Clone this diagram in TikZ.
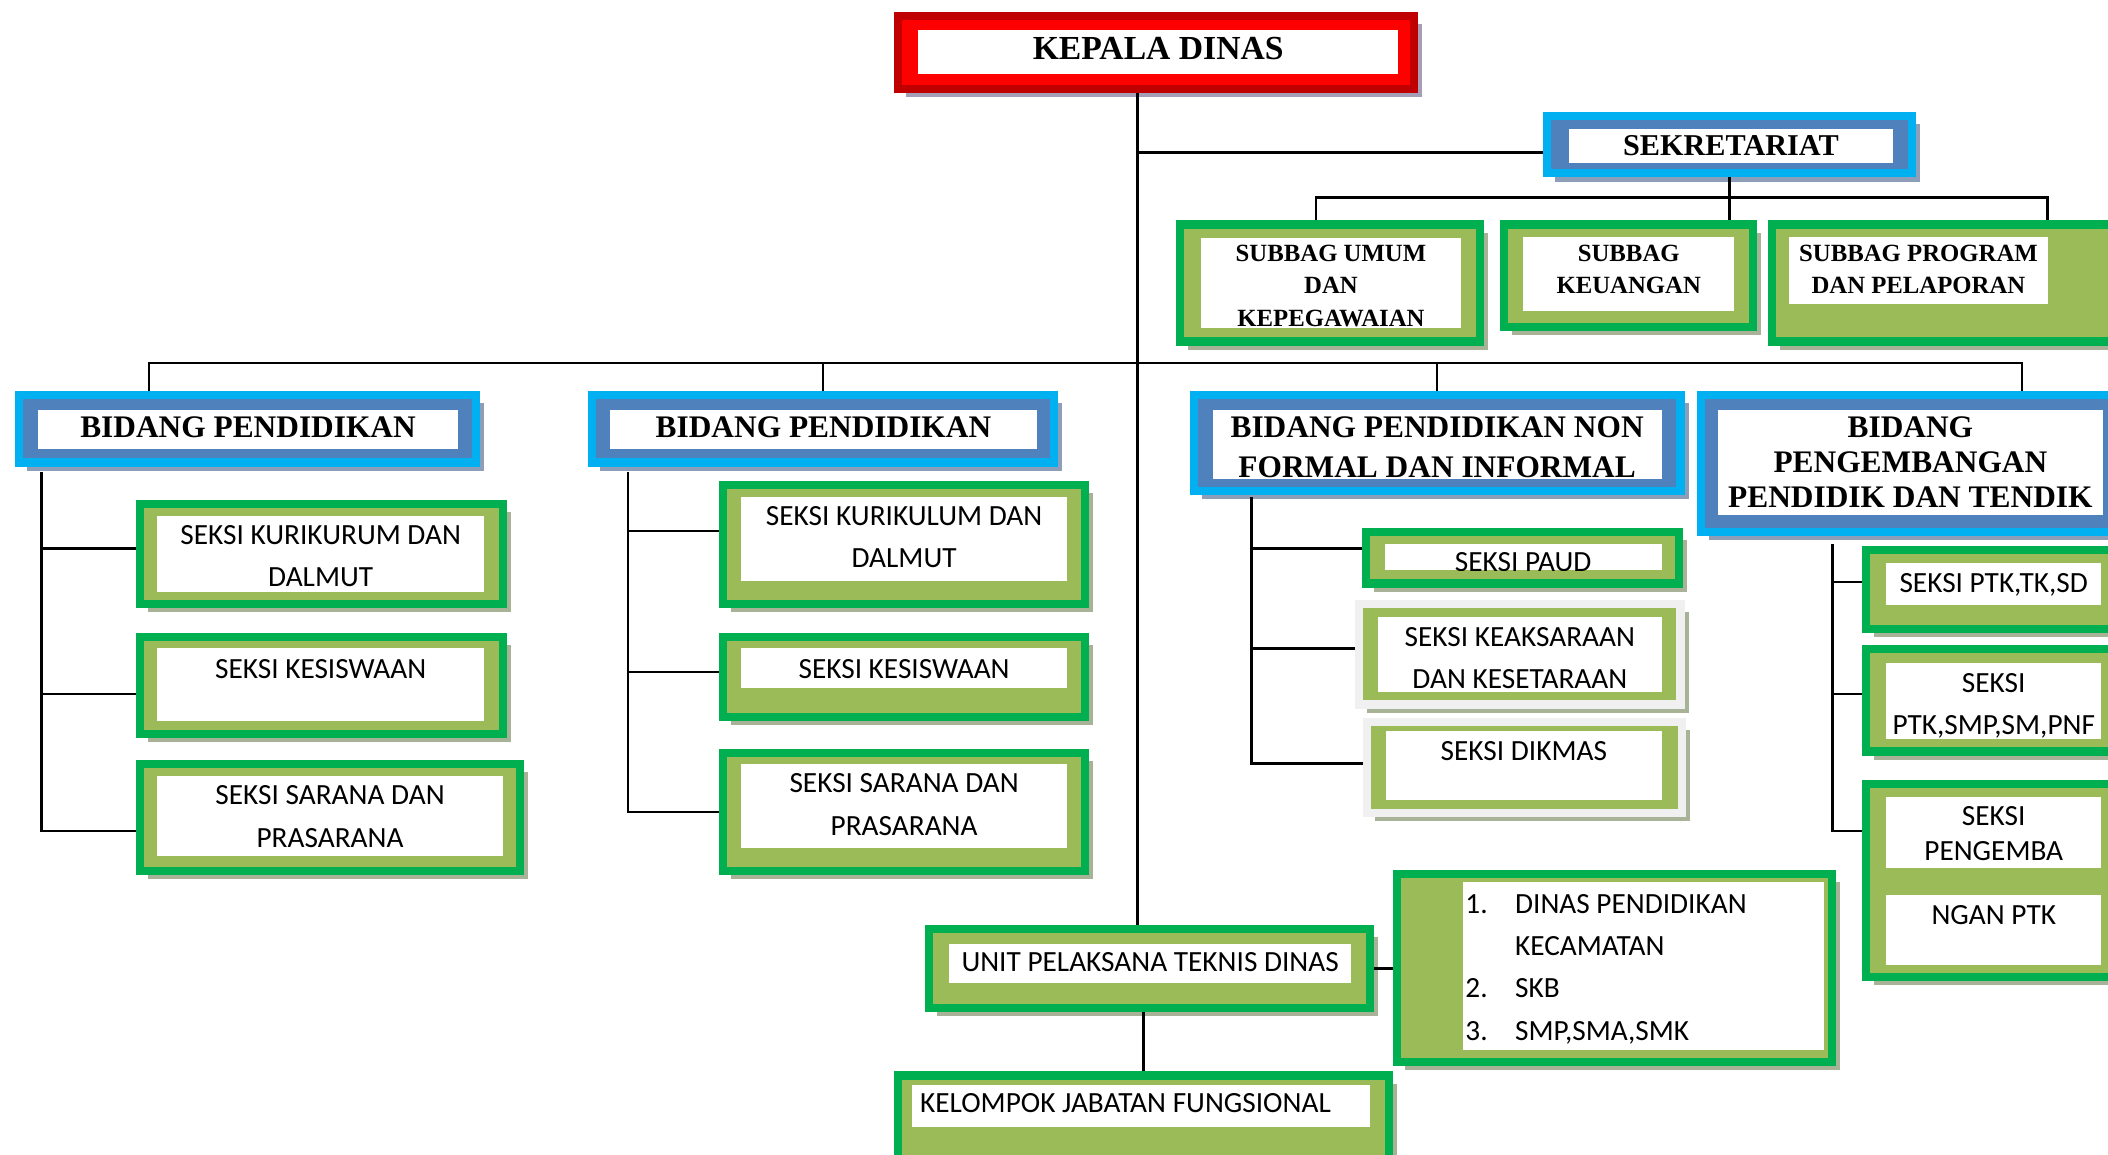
\documentclass[tikz,border=0pt]{standalone}
\usepackage{fontspec}
\setmainfont{Carlito}
\newfontfamily\hdfont{Liberation Serif}
\usetikzlibrary{fit,shadows}
\definecolor{gband}{RGB}{0,176,80}
\definecolor{olive}{RGB}{155,187,89}
\definecolor{cyanb}{RGB}{0,176,240}
\definecolor{steel}{RGB}{79,129,189}
\definecolor{redd}{RGB}{192,0,0}
\definecolor{redb}{RGB}{255,0,0}
\definecolor{pale}{RGB}{240,240,240}
\definecolor{shg}{RGB}{168,178,150}
\definecolor{shb}{RGB}{140,158,184}
\definecolor{shr}{RGB}{165,158,182}
\tikzset{
  shbox/.style={drop shadow={shadow xshift=1.5mm,shadow yshift=-1.5mm,fill=#1,opacity=1}},
  gbox/.style={draw=gband,fill=olive,line width=1.5mm,inner sep=-0.75mm,shbox=shg},
  pbox/.style={draw=pale,fill=olive,line width=1.5mm,inner sep=-0.75mm,shbox=shg},
  bbox/.style={draw=cyanb,fill=steel,line width=1.5mm,inner sep=-0.75mm,shbox=shb},
  rbox/.style={draw=redd,fill=redb,line width=1.5mm,inner sep=-0.75mm,shbox=shr},
  wbox/.style={fill=white,inner sep=0pt},
  hd/.style={font=\hdfont\bfseries\fontsize{16.6pt}{21pt}\selectfont,align=center,
             inner sep=0pt,anchor=north},
  sub/.style={hd,font=\hdfont\bfseries\fontsize{13.1pt}{17.4pt}\selectfont},
  sk/.style={font=\fontsize{15.5pt}{22.3pt}\selectfont,align=center,inner sep=0pt,anchor=north},
  ln/.style={line width=0.45mm,black},
}

\begin{document}
\begin{tikzpicture}[x=0.25mm,y=-0.25mm]
    \useasboundingbox (0,0) rectangle (1568,859);
    \clip (0,0) rectangle (1568,859);
    \fill[white] (0,0) rectangle (1568,859);
    % pimpinan dan sekretariat
    \node[rbox,fit={(665,9)(1055,69)}] (kd) {};
    \node[wbox,fit={(683,22)(1040,55)}] (kd-w) {};
    \node[hd,font=\hdfont\bfseries\fontsize{17.8pt}{21pt}\selectfont] (kd-t) at ([yshift=-1.4mm]kd-w.north) {KEPALA DINAS};
    \node[bbox,fit={(1148,83)(1425,132)}] (sek) {};
    \node[wbox,fit={(1167,96)(1408,121)}] (sek-w) {};
    \node[hd,font=\hdfont\bfseries\fontsize{16pt}{21pt}\selectfont] (sek-t) at ([yshift=-1.2mm]sek-w.north) {SEKRETARIAT};
    \node[gbox,fit={(875,164)(1104,257)}] (umum) {};
    \node[wbox,fit={(893,177)(1087,244)}] (umum-w) {};
    \begin{scope}
      \clip (umum-w.south west) rectangle (umum-w.north east);
      \node[sub] (umum-t) at ([yshift=-1.25mm]umum-w.north) {SUBBAG UMUM\\DAN\\KEPEGAWAIAN};
    \end{scope}
    \node[gbox,fit={(1116,164)(1307,246)}] (keu) {};
    \node[wbox,fit={(1133,176)(1290,231)}] (keu-w) {};
    \node[sub] (keu-t) at ([yshift=-1.5mm]keu-w.north) {SUBBAG\\KEUANGAN};
    \node[gbox,fit={(1315,164)(1600,257)}] (prog) {};
    \node[wbox,fit={(1331,176)(1523,226)}] (prog-w) {};
    \node[sub] (prog-t) at ([yshift=-1.5mm]prog-w.north) {SUBBAG PROGRAM\\DAN PELAPORAN};
    % bidang
    \node[bbox,fit={(11,291)(357,347)}] (bp1) {};
    \node[wbox,fit={(28,305)(341,334)}] (bp1-w) {};
    \node[hd] (bp1-t) at ([yshift=-1.25mm]bp1-w.north) {BIDANG PENDIDIKAN};
    \node[bbox,fit={(437,291)(787,347)}] (bp2) {};
    \node[wbox,fit={(454,305)(771,334)}] (bp2-w) {};
    \node[hd] (bp2-t) at ([yshift=-1.25mm]bp2-w.north) {BIDANG PENDIDIKAN};
    \node[bbox,fit={(885,291)(1253,368)}] (nf) {};
    \node[wbox,fit={(902,305)(1236,356)}] (nf-w) {};
    \begin{scope}
      \clip (nf-w.south west) rectangle (nf-w.north east);
      \node[hd] (nf-t) at ([yshift=-1.25mm]nf-w.north) {BIDANG PENDIDIKAN NON\\FORMAL DAN INFORMAL};
    \end{scope}
    \node[bbox,fit={(1262,291)(1600,399)}] (pg) {};
    \node[wbox,fit={(1278,305)(1564,383)}] (pg-w) {};
    \node[hd,font=\hdfont\bfseries\fontsize{16.6pt}{18.5pt}\selectfont] (pg-t) at ([yshift=-1.25mm]pg-w.north)
      {BIDANG\\PENGEMBANGAN\\PENDIDIK DAN TENDIK};
    % seksi bidang pendidikan (kiri)
    \node[gbox,fit={(101,372)(377,452)}] (k1) {};
    \node[wbox,fit={(117,384)(360,440)}] (k1-w) {};
    \node[sk] (k1-t) at ([yshift=-1.7mm]k1-w.north) {SEKSI KURIKURUM DAN\\DALMUT};
    \node[gbox,fit={(101,471)(377,549)}] (k2) {};
    \node[wbox,fit={(117,482)(360,536)}] (k2-w) {};
    \node[sk] (k2-t) at ([yshift=-2.2mm]k2-w.north) {SEKSI KESISWAAN};
    \node[gbox,fit={(101,565)(390,651)}] (k3) {};
    \node[wbox,fit={(117,577)(374,637)}] (k3-w) {};
    \node[sk] (k3-t) at ([yshift=-1.9mm]k3-w.north) {SEKSI SARANA DAN\\PRASARANA};
    % seksi bidang pendidikan (tengah)
    \node[gbox,fit={(535,358)(810,452)}] (q1) {};
    \node[wbox,fit={(551,370)(794,432)}] (q1-w) {};
    \node[sk] (q1-t) at ([yshift=-1.7mm]q1-w.north) {SEKSI KURIKULUM DAN\\DALMUT};
    \node[gbox,fit={(535,471)(810,536)}] (q2) {};
    \node[wbox,fit={(551,482)(794,512)}] (q2-w) {};
    \node[sk] (q2-t) at ([yshift=-2.2mm]q2-w.north) {SEKSI KESISWAAN};
    \node[gbox,fit={(535,557)(810,651)}] (q3) {};
    \node[wbox,fit={(551,568)(794,631)}] (q3-w) {};
    \node[sk] (q3-t) at ([yshift=-1.9mm]q3-w.north) {SEKSI SARANA DAN\\PRASARANA};
    % seksi non formal
    \node[gbox,fit={(1013,393)(1252,437)}] (paud) {};
    \node[wbox,fit={(1030,405)(1236,424)}] (paud-w) {};
    \begin{scope}
      \clip (paud-w.south west) rectangle (paud-w.north east);
      \node[sk] (paud-t) at ([yshift=-1.5mm]paud-w.north) {SEKSI PAUD};
    \end{scope}
    \node[pbox,fit={(1008,446)(1253,527)}] (ks) {};
    \node[wbox,fit={(1025,459)(1236,515)}] (ks-w) {};
    \node[sk] (ks-t) at ([yshift=-1.9mm]ks-w.north) {SEKSI KEAKSARAAN\\DAN KESETARAAN};
    \node[pbox,fit={(1014,534)(1254,608)}] (dk) {};
    \node[wbox,fit={(1031,544)(1236,595)}] (dk-w) {};
    \node[sk] (dk-t) at ([yshift=-1.9mm]dk-w.north) {SEKSI DIKMAS};
    % seksi ptk
    \node[gbox,fit={(1385,406)(1600,471)}] (t1) {};
    \node[wbox,fit={(1403,419)(1563,450)}] (t1-w) {};
    \node[sk] (t1-t) at ([yshift=-1.8mm]t1-w.north) {SEKSI PTK,TK,SD};
    \node[gbox,fit={(1385,480)(1600,562)}] (t2) {};
    \node[wbox,fit={(1403,493)(1563,550)}] (t2-w) {};
    \node[sk] (t2-t) at ([yshift=-2mm]t2-w.north) {SEKSI\\PTK,SMP,SM,PNF};
    \node[gbox,fit={(1385,580)(1600,730)}] (t3) {};
    \node[wbox,fit={(1403,593)(1563,646)}] (t3-w) {};
    \node[sk,font=\fontsize{15.5pt}{18.5pt}\selectfont] (t3-t) at ([yshift=-1.8mm]t3-w.north) {SEKSI\\PENGEMBA};
    \node[wbox,fit={(1403,666)(1563,718)}] (t3-w2) {};
    \node[sk] (t3-t2) at ([yshift=-1.8mm]t3-w2.north) {NGAN PTK};
    % upt dan fungsional
    \node[gbox,fit={(688,688)(1022,753)}] (upt) {};
    \node[wbox,fit={(706,702)(1005,731)}] (upt-w) {};
    \node[sk] (upt-t) at ([yshift=-1.6mm]upt-w.north) {UNIT PELAKSANA TEKNIS DINAS};
    \node[gbox,fit={(1036,647)(1366,793)}] (lst) {};
    \node[wbox,fit={(1088,656)(1357,781)}] (lst-w) {};
    \node[sk,anchor=north west,align=left] (lst-t) at ([xshift=0.5mm,yshift=-0.4mm]lst-w.north west)
      {\begin{tabular}{@{}p{9.25mm}@{}l@{}}
         1. & DINAS PENDIDIKAN\\
            & KECAMATAN\\
         2. & SKB\\
         3. & SMP,SMA,SMK
       \end{tabular}};
    \node[gbox,fit={(665,797)(1036,880)}] (kjf) {};
    \node[wbox,fit={(678,807)(1019,838)}] (kjf-w) {};
    \node[sk,anchor=north west] (kjf-t) at ([xshift=1.6mm,yshift=-1.6mm]kjf-w.north west) {KELOMPOK JABATAN FUNGSIONAL};
    % garis
    \coordinate (tr) at (846,0);
    \coordinate (sek-l) at ([yshift=-1.5mm]sek.west);
    \draw[ln] (kd.south -| tr) -- (upt.north -| tr);
    \draw[ln] (tr |- sek-l) -- (sek-l);
    \coordinate (sb-l) at (979,147);
    \coordinate (sb-r) at (1523,147);
    \draw[ln] (sek.south) -- (sek.south |- keu.north);
    \draw[ln] (sb-l |- umum.north) -- (sb-l) -- (sb-r) -- (sb-r |- prog.north);
    \coordinate (bb-l) at (111,270);
    \coordinate (bb-r) at (1504,270);
    \draw[ln] (bb-l |- bp1.north) -- (bb-l) -- (bb-r) -- (bb-r |- pg.north);
    \draw[ln] (bp2.north |- bb-l) -- (bp2.north);
    \draw[ln] (nf.north |- bb-l) -- (nf.north);
    \coordinate (s1) at (31,351);
    \coordinate (s2) at (467,351);
    \coordinate (s3) at (931,370);
    \coordinate (s4) at (1363,405);
    \foreach \b/\s in {k1/1,k2/-1.5,k3/-2.5} \draw[ln] (s1) |- ([yshift=\s mm]\b.west);
    \foreach \b/\s in {q1/2.5,q2/0.9,q3/0} \draw[ln] (s2) |- ([yshift=\s mm]\b.west);
    \foreach \b/\s in {paud/1.75,ks/1,dk/0.75} \draw[ln] (s3) |- ([yshift=\s mm]\b.west);
    \foreach \b/\s in {t1/1.4,t2/1.25,t3/9.25} \draw[ln] (s4) |- ([yshift=\s mm]\b.west);
    \draw[ln] (upt.east) -- (upt.east -| lst.west);
    \draw[ln] (upt.south -| kjf.north) -- (kjf.north);
\end{tikzpicture}
\end{document}
